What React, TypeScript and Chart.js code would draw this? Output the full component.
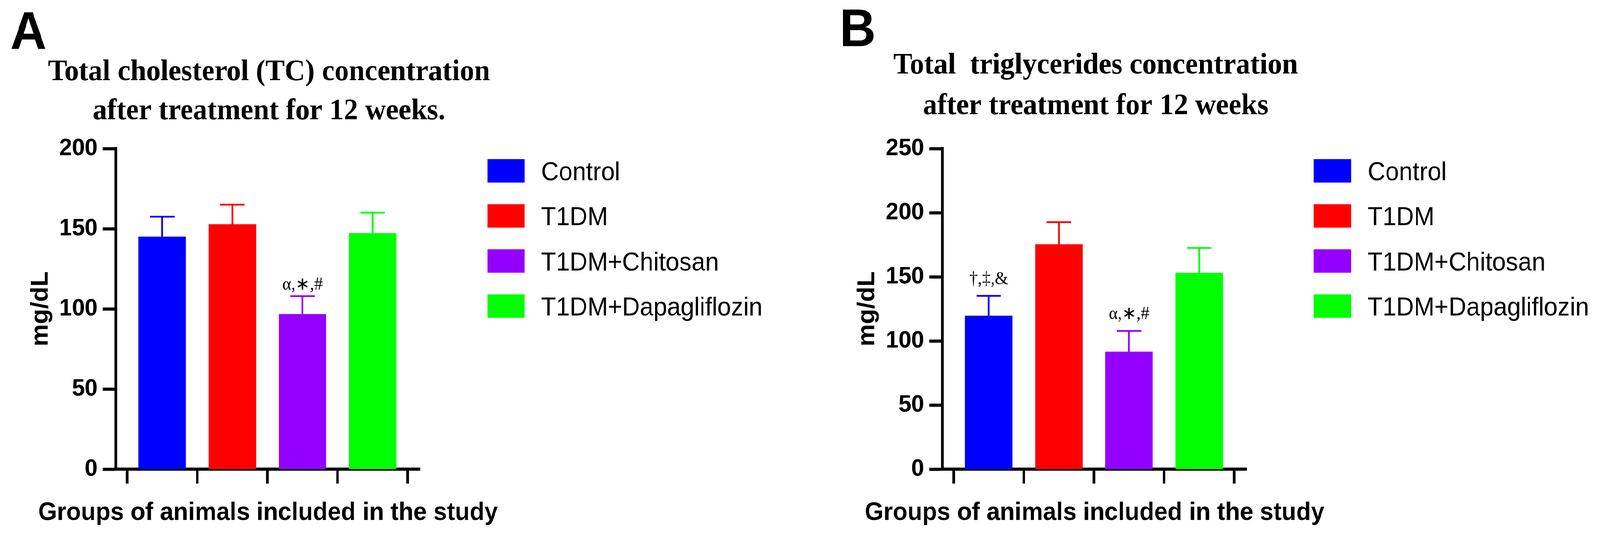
import React, { useEffect, useRef } from "react";
import { Chart, registerables } from "chart.js";

Chart.register(...registerables);

// ---------- data ----------
const categories = ["Control", "T1DM", "T1DM+Chitosan", "T1DM+Dapagliflozin"];
const barColors = ["#0000FF", "#FF0000", "#9400FF", "#00FF00"];

const tcMeans = [145, 152.7, 96.7, 147.2];
const tcSD = [12.5, 12.3, 11.2, 12.8];
const tcMarks = ["", "", "α,∗,#", ""];
const tcTicks = [0, 50, 100, 150, 200];
const tcTitle = ["Total cholesterol (TC) concentration", "after treatment for 12 weeks."];

const tgMeans = [119.6, 175.3, 91.5, 153];
const tgSD = [15.5, 17.3, 16.3, 19.5];
const tgMarks = ["†,‡,&", "", "α,∗,#", ""];
const tgTicks = [0, 50, 100, 150, 200, 250];
const tgTitle = ["Total  triglycerides concentration", "after treatment for 12 weeks"];

const xTitle = "Groups of animals included in the study";
const yTitle = "mg/dL";

// ---------- layout ----------
const PAGE_W = 4311;
const PAGE_H = 1371;
const W = 2084;
const H = 1371;
const PLOT_LEFT = 312;
const PLOT_RIGHT = 1132;
const PLOT_TOP = 380;
const PLOT_BOTTOM = 1200;
const PX_PER_CAT = 189;
const FIRST_CAT_PX = 437;
const X_MIN = -(FIRST_CAT_PX - PLOT_LEFT) / PX_PER_CAT;
const X_MAX = X_MIN + (PLOT_RIGHT - PLOT_LEFT) / PX_PER_CAT;

const SANS = '"Liberation Sans", Arial, sans-serif';
const SERIF = '"Liberation Serif", "Times New Roman", serif';

type PanelCfg = {
  letter: string;
  letterPos: [number, number];
  title: string[];
  titleBaselines: number[];
  means: number[];
  sd: number[];
  marks: string[];
  markGap: number;
  ticks: number[];
};

const panels: PanelCfg[] = [
  {
    letter: "A",
    letterPos: [28, 125],
    title: tcTitle,
    titleBaselines: [205, 305],
    means: tcMeans,
    sd: tcSD,
    marks: tcMarks,
    markGap: 17,
    ticks: tcTicks,
  },
  {
    letter: "B",
    letterPos: [35, 118],
    title: tgTitle,
    titleBaselines: [188, 292],
    means: tgMeans,
    sd: tgSD,
    marks: tgMarks,
    markGap: 30,
    ticks: tgTicks,
  },
];

const errorBarPlugin = {
  id: "errorBars",
  afterDatasetsDraw(chart: any, _args: any, opts: any) {
    const { ctx } = chart;
    const ys = chart.scales.y;
    const meta = chart.getDatasetMeta(0);
    opts.means.forEach((m: number, i: number) => {
      const bar = meta.data[i];
      const x = bar.x;
      const y0 = ys.getPixelForValue(m);
      const y1 = ys.getPixelForValue(m + opts.sd[i]);
      ctx.save();
      ctx.strokeStyle = barColors[i];
      ctx.lineWidth = 4.5;
      ctx.beginPath();
      ctx.moveTo(x, y0);
      ctx.lineTo(x, y1);
      ctx.moveTo(x - 33, y1);
      ctx.lineTo(x + 33, y1);
      ctx.stroke();
      if (opts.marks[i]) {
        ctx.fillStyle = "#000";
        ctx.font = `46px ${SERIF}`;
        ctx.textAlign = "center";
        ctx.textBaseline = "alphabetic";
        ctx.fillText(opts.marks[i], x, y1 - opts.markGap);
      }
      ctx.restore();
    });
  },
};

const decorPlugin = {
  id: "decor",
  afterDraw(chart: any, _args: any, opts: any) {
    const { ctx, chartArea } = chart;
    ctx.save();
    ctx.fillStyle = "#000";
    ctx.textBaseline = "alphabetic";

    // panel letter
    ctx.textAlign = "left";
    ctx.font = `bold 135px ${SANS}`;
    ctx.fillText(opts.letter, opts.letterPos[0], opts.letterPos[1]);

    // two-line title
    ctx.textAlign = "center";
    ctx.font = `bold 77px ${SERIF}`;
    const cx = (chartArea.left + chartArea.right) / 2 + 3;
    opts.title.forEach((line: string, i: number) => {
      ctx.fillText(line, cx, opts.titleBaselines[i]);
    });

    // x axis title
    ctx.font = `bold 65px ${SANS}`;
    ctx.fillText(xTitle, (chartArea.left + chartArea.right) / 2, 1330);

    // y axis title
    ctx.save();
    ctx.translate(128, (chartArea.top + chartArea.bottom) / 2);
    ctx.rotate(-Math.PI / 2);
    ctx.font = `bold 64px ${SANS}`;
    ctx.textAlign = "center";
    ctx.fillText(yTitle, 0, 0);
    ctx.restore();

    // legend
    ctx.textAlign = "left";
    ctx.font = `66px ${SANS}`;
    categories.forEach((name, i) => {
      const top = 407 + i * 115.3;
      ctx.fillStyle = barColors[i];
      ctx.fillRect(1313, top, 101, 60);
      ctx.fillStyle = "#000";
      ctx.fillText(name, 1458, top + 54);
    });
    ctx.restore();
  },
};

function makeChart(canvas: HTMLCanvasElement, p: PanelCfg) {
  const tickFont = { family: SANS, size: 62, weight: "bold" as const };
  return new Chart(canvas, {
    type: "bar",
    data: {
      labels: categories,
      datasets: [
        {
          data: p.means.map((v, i) => ({ x: i, y: v })) as any,
          backgroundColor: barColors,
          borderWidth: 0,
          barThickness: 127,
        },
      ],
    },
    options: {
      responsive: false,
      animation: false,
      devicePixelRatio: 1,
      layout: { padding: { top: PLOT_TOP, right: W - PLOT_RIGHT, left: 0, bottom: 0 } },
      plugins: {
        legend: { display: false },
        tooltip: { enabled: false },
        title: { display: false },
        errorBars: { means: p.means, sd: p.sd, marks: p.marks, markGap: p.markGap },
        decor: { letter: p.letter, letterPos: p.letterPos, title: p.title, titleBaselines: p.titleBaselines },
      } as any,
      scales: {
        x: {
          type: "linear",
          min: X_MIN,
          max: X_MAX,
          offset: false,
          afterBuildTicks: (s: any) => {
            s.ticks = categories.map((_, i) => ({ value: i }));
          },
          afterFit: (s: any) => {
            s.height = H - PLOT_BOTTOM;
          },
          ticks: { display: false },
          grid: {
            drawOnChartArea: false,
            drawTicks: true,
            tickLength: 37,
            tickWidth: 7,
            tickColor: "#000",
            color: "#000",
          },
          border: { display: true, color: "#000", width: 8 },
        },
        y: {
          type: "linear",
          min: p.ticks[0],
          max: p.ticks[p.ticks.length - 1],
          afterBuildTicks: (s: any) => {
            s.ticks = p.ticks.map((v) => ({ value: v }));
          },
          afterFit: (s: any) => {
            s.width = PLOT_LEFT;
          },
          ticks: { font: tickFont, color: "#000", padding: 14 },
          grid: {
            drawOnChartArea: false,
            drawTicks: true,
            tickLength: 35,
            tickWidth: 8,
            tickColor: "#000",
            color: "#000",
          },
          border: { display: true, color: "#000", width: 8 },
        },
      } as any,
    },
    plugins: [errorBarPlugin, decorPlugin],
  });
}

function Panel({ cfg, left }: { cfg: PanelCfg; left: number }) {
  const ref = useRef<HTMLCanvasElement>(null);
  useEffect(() => {
    const chart = makeChart(ref.current as HTMLCanvasElement, cfg);
    return () => chart.destroy();
  }, [cfg]);
  return (
    <canvas
      ref={ref}
      width={W}
      height={H}
      style={{ position: "absolute", left, top: 0, width: W, height: H }}
    />
  );
}

export default function App() {
  const vw = typeof window !== "undefined" ? window.innerWidth : PAGE_W;
  const sx = Math.min(1, vw / PAGE_W);
  return (
    <div
      style={{
        position: "absolute",
        left: 0,
        top: 0,
        width: PAGE_W,
        height: PAGE_H,
        background: "#fff",
        transform: `scale(${sx}, 1)`,
        transformOrigin: "0 0",
      }}
    >
      <Panel cfg={panels[0]} left={0} />
      <Panel cfg={panels[1]} left={2227} />
    </div>
  );
}
